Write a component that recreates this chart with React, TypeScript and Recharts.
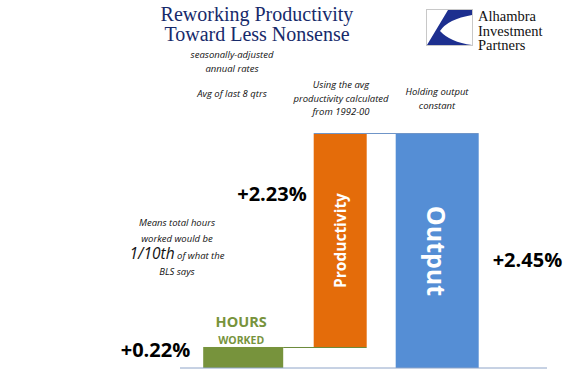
import { BarChart, Bar, XAxis, YAxis } from 'recharts';

const categories = ['Hours Worked', 'Productivity', 'Output'];
const baseValues = [0, 0.22, 0];
const changeValues = [0.22, 2.23, 2.45];
const valueLabels = ['+0.22%', '+2.23%', '+2.45%'];

const COLORS = ['#77933c', '#e46c0a', '#558ed5'];
const BAR_W = [80, 53, 83];
const STEP = 97;
const LABEL_FONT = '"Open Sans", sans-serif';

const data = categories.map((name, i) => ({
  name,
  base: baseValues[i],
  change: changeValues[i],
}));

function BarShape(props: any) {
  const { x, y, width, height, payload } = props;
  const i = categories.indexOf(payload.name);
  const w = BAR_W[i];
  const cx = x + width / 2;
  const left = cx - w / 2;
  const midY = y + height / 2;
  return (
    <g>
      <rect x={left} y={y} width={w} height={height} fill={COLORS[i]} />
      {i === 0 && (
        <g fontFamily={LABEL_FONT} fontWeight={700}>
          <text x={left - 13} y={y + 10} textAnchor="end" fontSize={20} fill="#000">{valueLabels[0]}</text>
          <text x={cx - 2} y={y - 20} textAnchor="middle" fontSize={14.5} fill="#77933c">HOURS</text>
          <text x={cx - 2} y={y - 3} textAnchor="middle" fontSize={10.5} fill="#77933c">WORKED</text>
        </g>
      )}
      {i === 1 && (
        <g fontFamily={LABEL_FONT} fontWeight={700}>
          <line x1={left} x2={cx + STEP + BAR_W[2] / 2} y1={y - 0.5} y2={y - 0.5} stroke="#6f95c8" strokeWidth={1} />
          <line x1={cx - STEP + BAR_W[0] / 2} x2={left + w} y1={y + height + 0.5} y2={y + height + 0.5} stroke="#6b8a3a" strokeWidth={1} />
          <text x={left - 7} y={y + 67} textAnchor="end" fontSize={20} fill="#000">{valueLabels[1]}</text>
          <text x={cx} y={midY} textAnchor="middle" dominantBaseline="central" fontSize={15.5} fill="#fff" transform={`rotate(-90 ${cx} ${midY})`}>Productivity</text>
        </g>
      )}
      {i === 2 && (
        <g fontFamily={LABEL_FONT} fontWeight={700}>
          <text x={left + w + 14} y={y + 133} textAnchor="start" fontSize={20} fill="#000">{valueLabels[2]}</text>
          <text x={cx} y={midY} textAnchor="middle" dominantBaseline="central" fontSize={25} fill="#fff" transform={`rotate(90 ${cx} ${midY})`}>Output</text>
        </g>
      )}
    </g>
  );
}

const note = (left: number, top: number, width: number, lines: React.ReactNode[], lh = 13.5) => (
  <div
    style={{
      position: 'absolute', left, top, width, textAlign: 'center',
      fontFamily: LABEL_FONT, fontStyle: 'italic', fontSize: 9.5, lineHeight: `${lh}px`, color: '#111',
    }}
  >
    {lines.map((l, k) => <div key={k}>{l}</div>)}
  </div>
);

function Logo() {
  return (
    <div style={{ position: 'absolute', left: 426, top: 9, width: 140, height: 44 }}>
      <svg width={47} height={37} style={{ position: 'absolute', left: 0, top: 0 }}>
        <rect x={0.5} y={0.5} width={46} height={36} fill="#fff" stroke="#c8c8c8" />
        <path d="M 22 1 L 46 1 L 46 6 Q 22 10 14 22 Q 24 33 46 36 L 1 36 Z" fill="#1d2f8f" />
      </svg>
      <div
        style={{
          position: 'absolute', left: 52, top: 0, fontFamily: '"Liberation Serif", serif',
          fontSize: 14.5, lineHeight: '14.5px', color: '#111',
        }}
      >
        <div>Alhambra</div>
        <div>Investment</div>
        <div>Partners</div>
      </div>
    </div>
  );
}

export default function App() {
  return (
    <div style={{ position: 'absolute', left: 0, top: 0, width: 568, height: 381, background: '#fff', overflow: 'hidden' }}>
      <div
        style={{
          position: 'absolute', left: 137, top: 4, width: 240, textAlign: 'center',
          fontFamily: '"Liberation Serif", serif', fontSize: 20, lineHeight: '20px', color: '#172a6b',
        }}
      >
        <div>Reworking Productivity</div>
        <div>Toward Less Nonsense</div>
      </div>
      <Logo />
      {note(172, 48, 120, ['seasonally-adjusted', 'annual rates'])}
      {note(172, 87, 120, ['Avg of last 8 qtrs'])}
      {note(276, 78, 130, ['Using the avg', 'productivity calculated', 'from 1992-00'])}
      {note(377, 85, 120, ['Holding output', 'constant'])}
      {note(117, 215, 120, [
        'Means total hours',
        'worked would be',
        <span><span style={{ fontSize: 15.5 }}>1/10th</span> of what the</span>,
        'BLS says',
      ], 15.5)}
      <div style={{ position: 'absolute', left: 0, top: 0 }}>
        <BarChart width={568} height={381} data={data} margin={{ top: 134, right: 21, bottom: 12, left: 180 }}>
          <XAxis
            dataKey="name"
            height={1}
            tick={false}
            tickLine={false}
            axisLine={{ stroke: '#8ea4c8', strokeWidth: 1 }}
            padding={{ left: 14.5, right: 61.5 }}
          />
          <YAxis hide domain={[0, 2.45]} />
          <Bar dataKey="base" stackId="a" fill="transparent" isAnimationActive={false} />
          <Bar dataKey="change" stackId="a" shape={BarShape} isAnimationActive={false} />
        </BarChart>
      </div>
    </div>
  );
}
